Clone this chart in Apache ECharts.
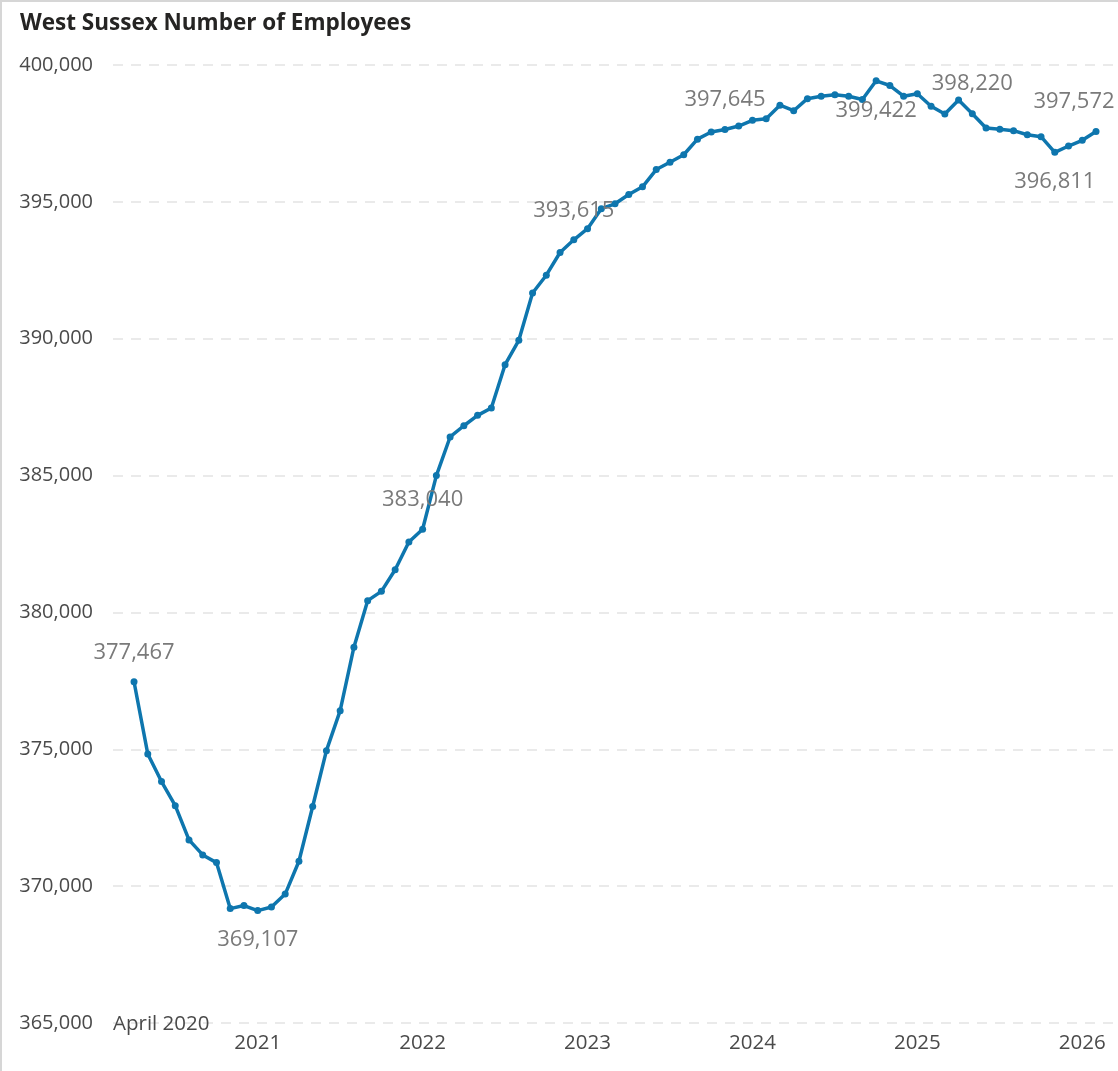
<!DOCTYPE html>
<html>
<head>
<meta charset="utf-8">
<script src="https://cdn.jsdelivr.net/npm/echarts@6/dist/echarts.min.js"></script>
<style>
  html, body { margin: 0; padding: 0; background: #fff; }
  #chart { width: 1118px; height: 1071px; }
  #frame { position: absolute; left: 0; top: 0; width: 1118px; height: 1071px;
           border-left: 2px solid #d6d6d6; border-top: 2px solid #d6d6d6; box-sizing: border-box; pointer-events: none; }
</style>
</head>
<body>
<div id="chart"></div>
<div id="frame"></div>
<script>
// ---- data ----
const chartTitle = 'West Sussex Number of Employees';
const months = [
  '2020-04','2020-05','2020-06','2020-07','2020-08','2020-09','2020-10','2020-11','2020-12',
  '2021-01','2021-02','2021-03','2021-04','2021-05','2021-06','2021-07','2021-08','2021-09','2021-10','2021-11','2021-12',
  '2022-01','2022-02','2022-03','2022-04','2022-05','2022-06','2022-07','2022-08','2022-09','2022-10','2022-11','2022-12',
  '2023-01','2023-02','2023-03','2023-04','2023-05','2023-06','2023-07','2023-08','2023-09','2023-10','2023-11','2023-12',
  '2024-01','2024-02','2024-03','2024-04','2024-05','2024-06','2024-07','2024-08','2024-09','2024-10','2024-11','2024-12',
  '2025-01','2025-02','2025-03','2025-04','2025-05','2025-06','2025-07','2025-08','2025-09','2025-10','2025-11','2025-12',
  '2026-01','2026-02'
];
const employees = [
  377467, 374830, 373820, 372940, 371690, 371140, 370860, 369180, 369290,
  369107, 369240, 369710, 370910, 372910, 374950, 376410, 378730, 380430, 380770, 381560, 382570,
  383040, 385000, 386410, 386820, 387200, 387470, 389050, 389940, 391670, 392320, 393150, 393615,
  394020, 394750, 394930, 395270, 395550, 396180, 396450, 396720, 397290, 397550, 397645, 397770,
  397980, 398040, 398530, 398330, 398770, 398860, 398910, 398860, 398740, 399422, 399250, 398860,
  398950, 398490, 398210, 398720, 398220, 397700, 397650, 397600, 397450, 397380, 396811, 397040,
  397250, 397572
];
// x tick labels and the month index they sit at
const xTickIndex  = [9, 21, 33, 45, 57, 69];
const xTickLabels = ['2021', '2022', '2023', '2024', '2025', '2026'];
const xStartLabel = 'April 2020';
// y axis ticks
const yMin = 365000, yMax = 400000, yStep = 5000;
// which points carry a data label
const labelAbove = [0, 21, 32, 43, 61, 70];
const labelBelow = [9, 54, 67];

// ---- chart ----
const FONT = "'Segoe UI', 'Open Sans', sans-serif";
const LINE = '#0E76AE';
const xMin = -1.53, xMax = 71.6;

const seriesData = employees.map((v, i) => {
  const item = { value: [i, v] };
  if (labelAbove.includes(i) || labelBelow.includes(i)) {
    item.label = {
      show: true,
      position: labelAbove.includes(i) ? 'top' : 'bottom',
      distance: 15,
      offset: i === employees.length - 1 ? [-22, 0] : [0, 0]
    };
  }
  return item;
});

const chart = echarts.init(document.getElementById('chart'), null, { renderer: 'canvas' });
chart.setOption({
  animation: false,
  backgroundColor: '#ffffff',
  textStyle: { fontFamily: FONT },
  title: {
    text: chartTitle,
    left: 15, top: 7,
    textStyle: { fontFamily: FONT, fontSize: 22.5, fontWeight: 'bold', color: '#252423' }
  },
  grid: { left: 113, right: 0, top: 65, bottom: 48, containLabel: false },
  xAxis: [
    {
      type: 'value', min: xMin, max: xMax,
      axisLine: { show: false }, axisTick: { show: false }, splitLine: { show: false },
      axisLabel: {
        customValues: xTickIndex,
        formatter: (v) => xTickLabels[xTickIndex.indexOf(Math.round(v))] || '',
        fontFamily: FONT, fontSize: 20.5, color: '#4a4a4a', margin: 10
      }
    },
    {
      type: 'value', min: xMin, max: xMax, position: 'bottom',
      axisLine: { show: false }, axisTick: { show: false }, splitLine: { show: false },
      axisLabel: {
        customValues: [xMin],
        formatter: () => xStartLabel,
        align: 'left',
        fontFamily: FONT, fontSize: 20.5, color: '#4a4a4a', margin: -9
      }
    }
  ],
  yAxis: {
    type: 'value', min: yMin, max: yMax, interval: yStep,
    axisLine: { show: false }, axisTick: { show: false },
    axisLabel: {
      formatter: (v) => v.toLocaleString('en-US'),
      fontFamily: FONT, fontSize: 20, color: '#4a4a4a', margin: 20
    },
    splitLine: { show: true, lineStyle: { color: '#e4e4e4', width: 1.5, type: [10, 8] } }
  },
  series: [{
    type: 'line',
    xAxisIndex: 0,
    data: seriesData,
    symbol: 'circle', symbolSize: 7,
    showAllSymbol: true,
    lineStyle: { color: LINE, width: 3.5 },
    itemStyle: { color: LINE },
    label: {
      show: false,
      formatter: (p) => p.value[1].toLocaleString('en-US'),
      fontFamily: FONT, fontSize: 22, color: '#7a7a7a'
    },
    z: 3
  }]
});
</script>
</body>
</html>
